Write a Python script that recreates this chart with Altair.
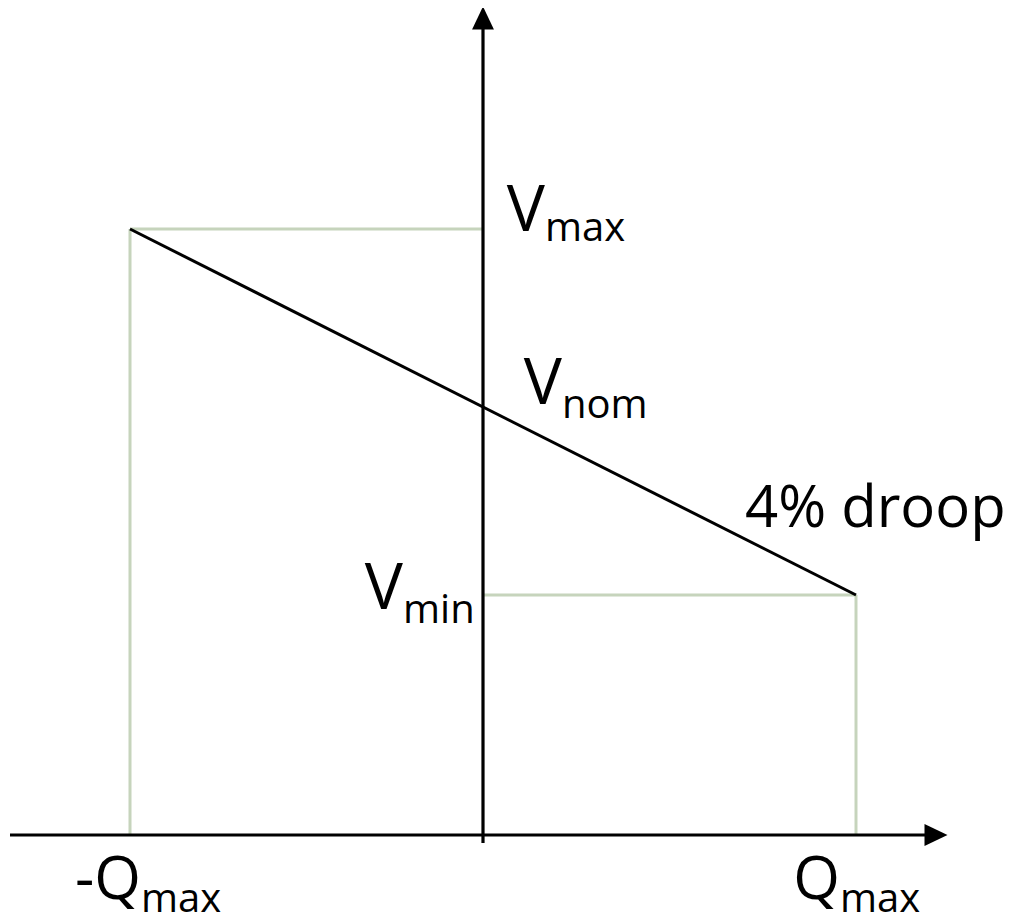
import altair as alt
import pandas as pd

# ---- key values (arbitrary units, origin where the two axes cross) ----
q_neg_max = -353
q_max = 373
v_max = 606
v_min = 240

# droop characteristic
droop_q = [q_neg_max, q_max]
droop_v = [v_max, v_min]

# light green guide segments (start / end)
guide_q1 = [q_neg_max, q_neg_max, 0, q_max]
guide_q2 = [0, q_neg_max, q_max, q_max]
guide_v1 = [v_max, 0, v_min, 0]
guide_v2 = [v_max, v_max, v_min, v_min]

# axes extents
axis_q = [-473, 445]
axis_v = [-8, 808]
arrow_q_tip = 453   # arrowhead centre on Q axis
arrow_v_tip = 817   # arrowhead centre on V axis

# labels: main letter (right aligned at anchor) + subscript (left aligned)
main_text = ["V", "V", "V", "-Q", "Q"]
sub_text = ["max", "nom", "min", "max", "max"]
anchor_q = [62, 79, -80, -342, 357]
main_v = [604, 431, 226, -64, -64]
sub_v = [594, 417, 212, -77, -77]
main_size = [64, 64, 64, 60, 60]

droop_label = ["4% droop"]
droop_label_q = [262]
droop_label_v = [308]

XDOM = [-475, 522]
YDOM = [-80, 827]

xs = alt.Scale(domain=XDOM, nice=False, zero=False)
ys = alt.Scale(domain=YDOM, nice=False, zero=False)

guides = pd.DataFrame({"q1": guide_q1, "q2": guide_q2, "v1": guide_v1, "v2": guide_v2})
axes = pd.DataFrame({
    "q1": [axis_q[0], 0], "q2": [axis_q[1], 0],
    "v1": [0, axis_v[0]], "v2": [0, axis_v[1]],
})
droop = pd.DataFrame({"q": droop_q, "v": droop_v})
mains = pd.DataFrame({"t": main_text, "q": anchor_q, "v": main_v, "fs": main_size})
subs = pd.DataFrame({"t": sub_text, "q": anchor_q, "v": sub_v})
dl = pd.DataFrame({"t": droop_label, "q": droop_label_q, "v": droop_label_v})
arrows_x = pd.DataFrame({"q": [arrow_q_tip], "v": [0]})
arrows_y = pd.DataFrame({"q": [0], "v": [arrow_v_tip]})

guide_layer = alt.Chart(guides).mark_rule(color="#c6d4bc", strokeWidth=3).encode(
    x=alt.X("q1:Q", scale=xs, axis=None), x2="q2:Q",
    y=alt.Y("v1:Q", scale=ys, axis=None), y2="v2:Q",
)
axis_layer = alt.Chart(axes).mark_rule(color="black", strokeWidth=3.2).encode(
    x=alt.X("q1:Q", scale=xs, axis=None), x2="q2:Q",
    y=alt.Y("v1:Q", scale=ys, axis=None), y2="v2:Q",
)
droop_layer = alt.Chart(droop).mark_line(color="black", strokeWidth=3).encode(
    x=alt.X("q:Q", scale=xs, axis=None),
    y=alt.Y("v:Q", scale=ys, axis=None),
)
arrow_x_layer = alt.Chart(arrows_x).mark_point(
    shape="M-1,-0.95L1,0L-1,0.95Z", size=529, filled=True, color="black", opacity=1, strokeWidth=0
).encode(x=alt.X("q:Q", scale=xs, axis=None), y=alt.Y("v:Q", scale=ys, axis=None))
arrow_y_layer = alt.Chart(arrows_y).mark_point(
    shape="M0,-1L0.95,1L-0.95,1Z", size=529, filled=True, color="black", opacity=1, strokeWidth=0
).encode(x=alt.X("q:Q", scale=xs, axis=None), y=alt.Y("v:Q", scale=ys, axis=None))

main_layer = alt.Chart(mains).mark_text(
    align="right", baseline="alphabetic", font="Open Sans", color="black"
).encode(
    x=alt.X("q:Q", scale=xs, axis=None), y=alt.Y("v:Q", scale=ys, axis=None),
    text="t:N", size=alt.Size("fs:Q", scale=None, legend=None),
)
sub_layer = alt.Chart(subs).mark_text(
    align="left", baseline="alphabetic", font="Open Sans", fontSize=40, color="black"
).encode(
    x=alt.X("q:Q", scale=xs, axis=None), y=alt.Y("v:Q", scale=ys, axis=None), text="t:N",
)
droop_text = alt.Chart(dl).mark_text(
    align="left", baseline="alphabetic", font="Open Sans", fontSize=58, color="black"
).encode(
    x=alt.X("q:Q", scale=xs, axis=None), y=alt.Y("v:Q", scale=ys, axis=None), text="t:N",
)

chart = alt.layer(
    guide_layer, axis_layer, droop_layer, arrow_x_layer, arrow_y_layer,
    main_layer, sub_layer, droop_text,
).properties(
    width=997, height=907, padding=0,
    autosize=alt.AutoSizeParams(type="none"),
).configure_view(stroke=None)

chart.save("out.html", embed_options={"renderer": "svg", "actions": False})
